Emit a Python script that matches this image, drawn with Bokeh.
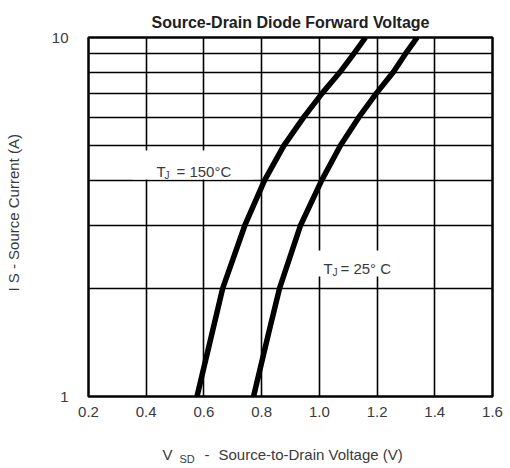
from bokeh.plotting import figure
from bokeh.layouts import column
from bokeh.models import (Range1d, FixedTicker, NumeralTickFormatter, Label,
                          BoxAnnotation, ColumnDataSource)
from bokeh.embed import file_html
from bokeh.resources import INLINE

# ---- data ----
current_a = [1, 1.5, 2, 3, 4, 5, 6, 7, 8, 9, 10]
vsd_150c = [0.576, 0.628, 0.665, 0.742, 0.81, 0.877, 0.946, 1.010, 1.071, 1.119, 1.160]
vsd_25c = [0.772, 0.824, 0.862, 0.935, 1.008, 1.073, 1.137, 1.198, 1.256, 1.298, 1.339]
x_ticks = [0.2, 0.4, 0.6, 0.8, 1.0, 1.2, 1.4, 1.6]
y_ticks = [1, 10]
y_minor = [2, 3, 4, 5, 6, 7, 8, 9]

FONT = "Liberation Sans"
TXT = "#3a3a3a"

# frame geometry in canvas pixels (for placing annotations)
FL, FT, FW, FH = 88, 37, 404, 359
RB, BB = 14, 35
W = FL + FW + RB
H_TOP = FT + FH + BB


def vx(px):
    return 0.2 + (px - FL) * 1.4 / FW


def iy(py):
    return 10 ** (1 - (py - FT) / FH)


p = figure(frame_width=FW, frame_height=FH, y_axis_type="log",
           x_range=Range1d(0.2, 1.6), y_range=Range1d(1, 10),
           output_backend="svg", toolbar_location=None,
           min_border_left=FL, min_border_right=RB,
           min_border_top=FT, min_border_bottom=BB)
p.background_fill_color = "white"
p.border_fill_color = "white"
p.outline_line_color = "black"
p.outline_line_width = 2.5

p.title.text = "Source-Drain Diode Forward Voltage"
p.title.align = "center"
p.title.text_font = FONT
p.title.text_font_size = "16px"
p.title.text_font_style = "bold"
p.title.text_color = "#202020"
p.title.standoff = 14

p.xaxis.ticker = FixedTicker(ticks=x_ticks)
p.xaxis.formatter = NumeralTickFormatter(format="0.0")
p.yaxis.ticker = FixedTicker(ticks=y_ticks, minor_ticks=y_minor)
p.yaxis.formatter = NumeralTickFormatter(format="0")
for ax in (p.xaxis[0], p.yaxis[0]):
    ax.axis_line_color = None
    ax.major_tick_line_color = None
    ax.minor_tick_line_color = None
    ax.major_label_text_font = FONT
    ax.major_label_text_font_size = "15px"
    ax.major_label_text_color = TXT
p.xaxis.major_label_standoff = 4
p.yaxis.major_label_standoff = 14

p.yaxis.axis_label = "\u00a0\u00a0\u00a0\u00a0I S  -  Source Current (A)"
p.yaxis.axis_label_text_font = FONT
p.yaxis.axis_label_text_font_size = "15px"
p.yaxis.axis_label_text_font_style = "normal"
p.yaxis.axis_label_text_color = TXT
p.yaxis.axis_label_standoff = 27

p.xgrid.grid_line_color = "black"
p.xgrid.grid_line_width = 1.6
p.ygrid.grid_line_color = "black"
p.ygrid.grid_line_width = 1.6
p.ygrid.minor_grid_line_color = "black"
p.ygrid.minor_grid_line_width = 1.6

src = ColumnDataSource(dict(i=current_a, v150=vsd_150c, v25=vsd_25c))
p.line("v150", "i", source=src, line_color="black", line_width=5.5, line_join="round")
p.line("v25", "i", source=src, line_color="black", line_width=5.5, line_join="round")

# white boxes behind curve labels
p.add_layout(BoxAnnotation(left=vx(132), right=vx(253), top=iy(150), bottom=iy(179),
                           fill_color="white", fill_alpha=1, line_color=None))
p.add_layout(BoxAnnotation(left=vx(312), right=vx(405), top=iy(250), bottom=iy(276),
                           fill_color="white", fill_alpha=1, line_color=None))


def lab(fig, text, x, y, size):
    fig.add_layout(Label(x=x, y=y, text=text, text_font=FONT,
                         text_font_size=f"{size}px", text_color=TXT,
                         text_align="left", text_baseline="alphabetic"))


# curve labels
lab(p, "T", vx(156), iy(171), 15)
lab(p, "J", vx(164), iy(175), 10)
lab(p, "= 150°C", vx(176), iy(171), 15)
lab(p, "T", vx(323), iy(268), 15)
lab(p, "J", vx(332), iy(272), 10)
lab(p, "= 25° C", vx(340), iy(268), 15)

# strip below the chart holding the x axis title (pixel coordinates)
H_BOT = 32
q = figure(frame_width=FW, frame_height=H_BOT,
           x_range=Range1d(FL, FL + FW), y_range=Range1d(H_BOT, 0),
           output_backend="svg", toolbar_location=None,
           x_axis_location=None, y_axis_location=None,
           min_border_left=FL, min_border_right=RB,
           min_border_top=0, min_border_bottom=0)
q.title = None
q.outline_line_color = None
q.xgrid.visible = False
q.ygrid.visible = False
q.background_fill_color = "white"
q.border_fill_color = "white"

base = 454 - H_TOP
lab(q, "V", 162, base, 15)
lab(q, "SD", 179, base + 4, 11)
lab(q, "-", 204, base, 15)
lab(q, "Source-to-Drain Voltage (V)", 218, base, 15)

layout = column(p, q, spacing=0)
open("out.html", "w").write(file_html(layout, INLINE))
